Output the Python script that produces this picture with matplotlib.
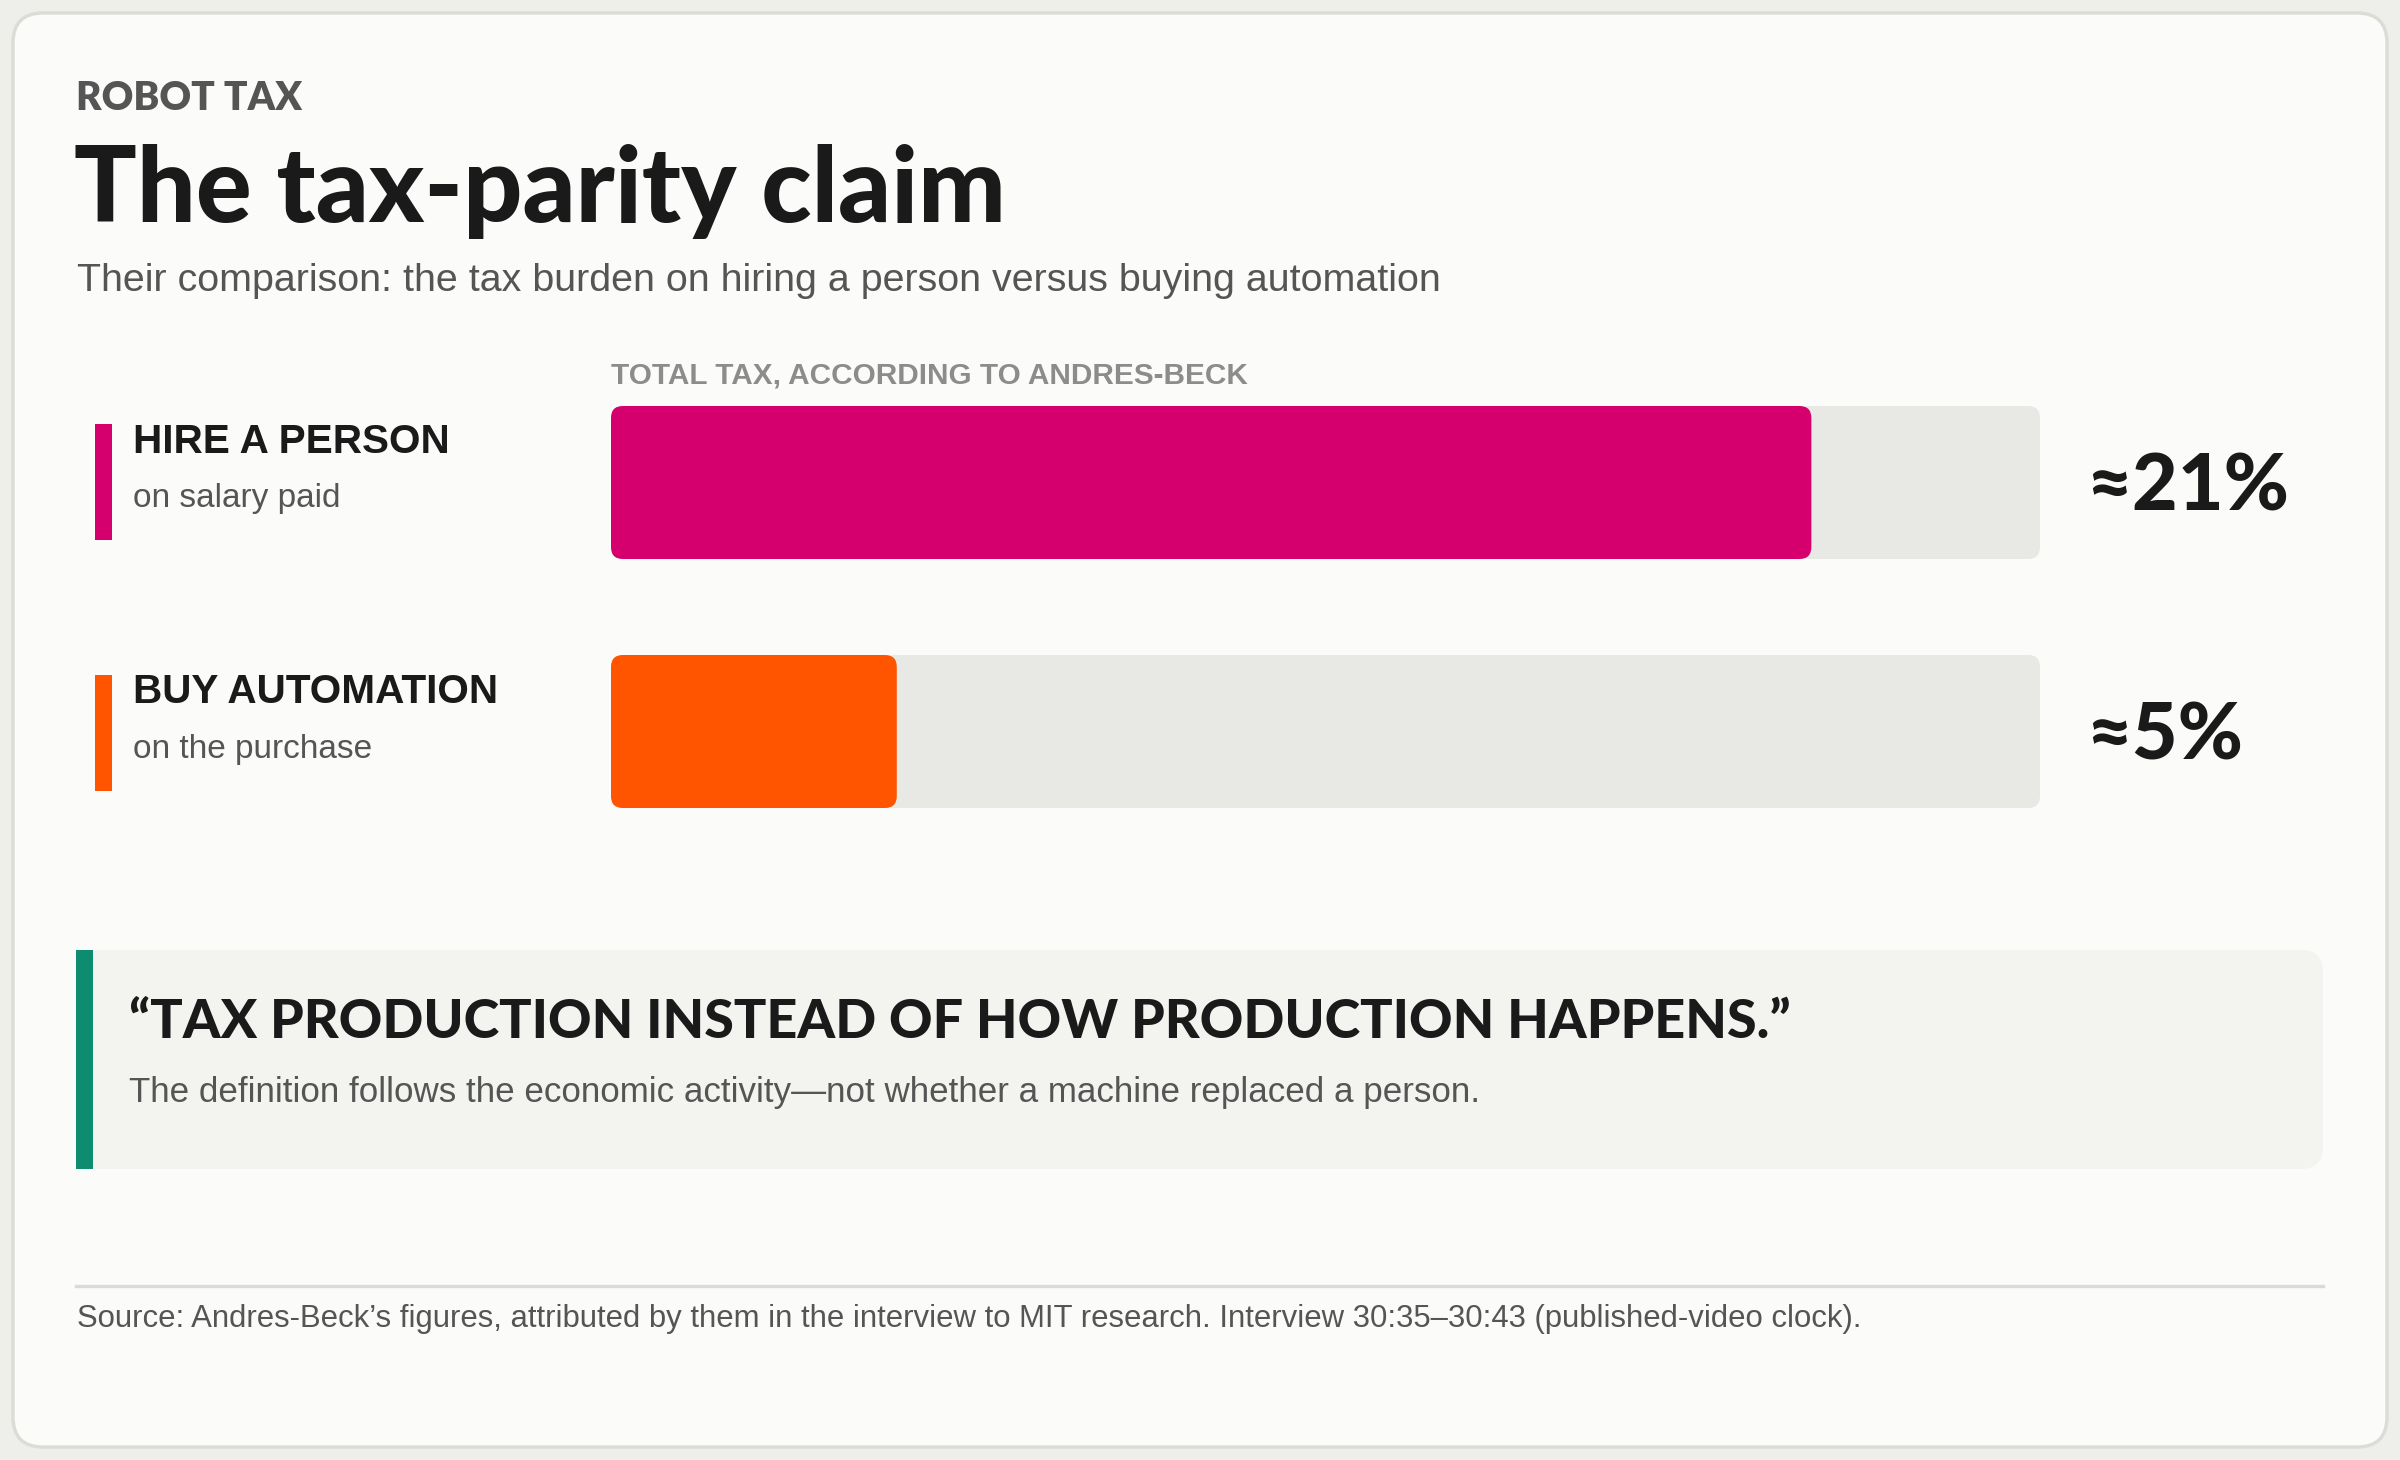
import matplotlib
matplotlib.use("Agg")
import matplotlib.pyplot as plt
from matplotlib.patches import FancyBboxPatch, Rectangle

# ---- data ----
categories = ["HIRE A PERSON", "BUY AUTOMATION"]
subtitles = ["on salary paid", "on the purchase"]
values = [21, 5]
value_labels = ["\u224821%", "\u22485%"]
scale_max = 25
bar_colors = ["#D5006D", "#FF5500"]

kicker = "ROBOT TAX"
title = "The tax-parity claim"
subtitle = "Their comparison: the tax burden on hiring a person versus buying automation"
axis_label = "TOTAL TAX, ACCORDING TO ANDRES-BECK"
quote = "\u201cTAX PRODUCTION INSTEAD OF HOW PRODUCTION HAPPENS.\u201d"
quote_note = "The definition follows the economic activity\u2014not whether a machine replaced a person."
source = ("Source: Andres-Beck\u2019s figures, attributed by them in the interview to MIT research. "
          "Interview 30:35\u201330:43 (published-video clock).")

W, H = 2400, 1460
DPI = 200
HEAVY = ["Lato", "DejaVu Sans"]
SANS = ["Liberation Sans", "DejaVu Sans"]

fig = plt.figure(figsize=(W / DPI, H / DPI), dpi=DPI)
fig.patch.set_facecolor("#EEEEEA")

ax0 = fig.add_axes([0, 0, 1, 1])
ax0.set_xlim(0, W)
ax0.set_ylim(H, 0)
ax0.axis("off")

# card
ax0.add_patch(FancyBboxPatch((13, 13), W - 26, H - 26,
                             boxstyle="round,pad=0,rounding_size=30",
                             facecolor="#FBFBF9", edgecolor="#DCDCD6", linewidth=1.2))

# header
ax0.text(76, 110, kicker, fontsize=14, fontweight="heavy", color="#555555",
         family=HEAVY, va="baseline")
ax0.text(74, 222, title, fontsize=37.5, fontweight="black", color="#1A1A1A",
         family=HEAVY, va="baseline")
ax0.text(77, 291, subtitle, fontsize=14.2, color="#555555", family=SANS, va="baseline")
ax0.text(611, 383, axis_label, fontsize=10.7, fontweight="bold", color="#8C8C8C",
         family=SANS, va="baseline")

# left labels
label_base = [453, 703]
sub_base = [507, 758]
acc_top = [424, 675]
for i in range(len(categories)):
    ax0.add_patch(Rectangle((95, acc_top[i]), 17, 116, facecolor=bar_colors[i], edgecolor="none"))
    ax0.text(133, label_base[i], categories[i], fontsize=14.6, fontweight="bold",
             color="#1A1A1A", family=SANS, va="baseline")
    ax0.text(133, sub_base[i], subtitles[i], fontsize=12.0, color="#555555",
             family=SANS, va="baseline")

# bars axes
bx0, bx1 = 611, 2040
by0, by1 = 406, 808
axb = fig.add_axes([bx0 / W, 1 - by1 / H, (bx1 - bx0) / W, (by1 - by0) / H])
bh = 153 / 249.0
axb.set_xlim(0, scale_max)
axb.set_ylim(1 + bh / 2, -bh / 2)
axb.axis("off")
axb.patch.set_alpha(0)
px_per_x = (bx1 - bx0) / scale_max
px_per_y = 249.0
r_px = 12
aspect = px_per_x / px_per_y
for i, v in enumerate(values):
    for width, col in [(scale_max, "#E8E8E4"), (v, bar_colors[i])]:
        axb.add_patch(FancyBboxPatch((0, i - bh / 2), width, bh,
                                     boxstyle=f"round,pad=0,rounding_size={r_px / px_per_x}",
                                     mutation_aspect=aspect,
                                     facecolor=col, edgecolor="none"))
    axb.text(scale_max + 46 / px_per_x, i + 28 / px_per_y, value_labels[i], fontsize=28.5,
             fontweight="black", color="#1A1A1A", family=HEAVY, va="baseline", ha="left",
             clip_on=False)

# quote box
qx0, qx1, qy0, qy1 = 76, 2323, 950, 1169
ax0.add_patch(FancyBboxPatch((qx0, qy0), qx1 - qx0, qy1 - qy0,
                             boxstyle="round,pad=0,rounding_size=22",
                             facecolor="#F3F3F0", edgecolor="none"))
ax0.add_patch(Rectangle((qx0, qy0), 60, qy1 - qy0, facecolor="#F3F3F0", edgecolor="none"))
ax0.add_patch(Rectangle((qx0, qy0), 17, qy1 - qy0, facecolor="#0E8C70", edgecolor="none"))
ax0.text(129, 1038, quote, fontsize=19.4, fontweight="black", color="#1A1A1A",
         family=HEAVY, va="baseline")
ax0.text(129, 1102, quote_note, fontsize=12.6, color="#555555", family=SANS, va="baseline")

# source
ax0.plot([76, 2323], [1286, 1286], color="#DADAD6", linewidth=1.2)
ax0.text(77, 1327, source, fontsize=11.2, color="#555555", family=SANS, va="baseline")

fig.savefig("out.png", dpi=DPI, facecolor=fig.get_facecolor())
